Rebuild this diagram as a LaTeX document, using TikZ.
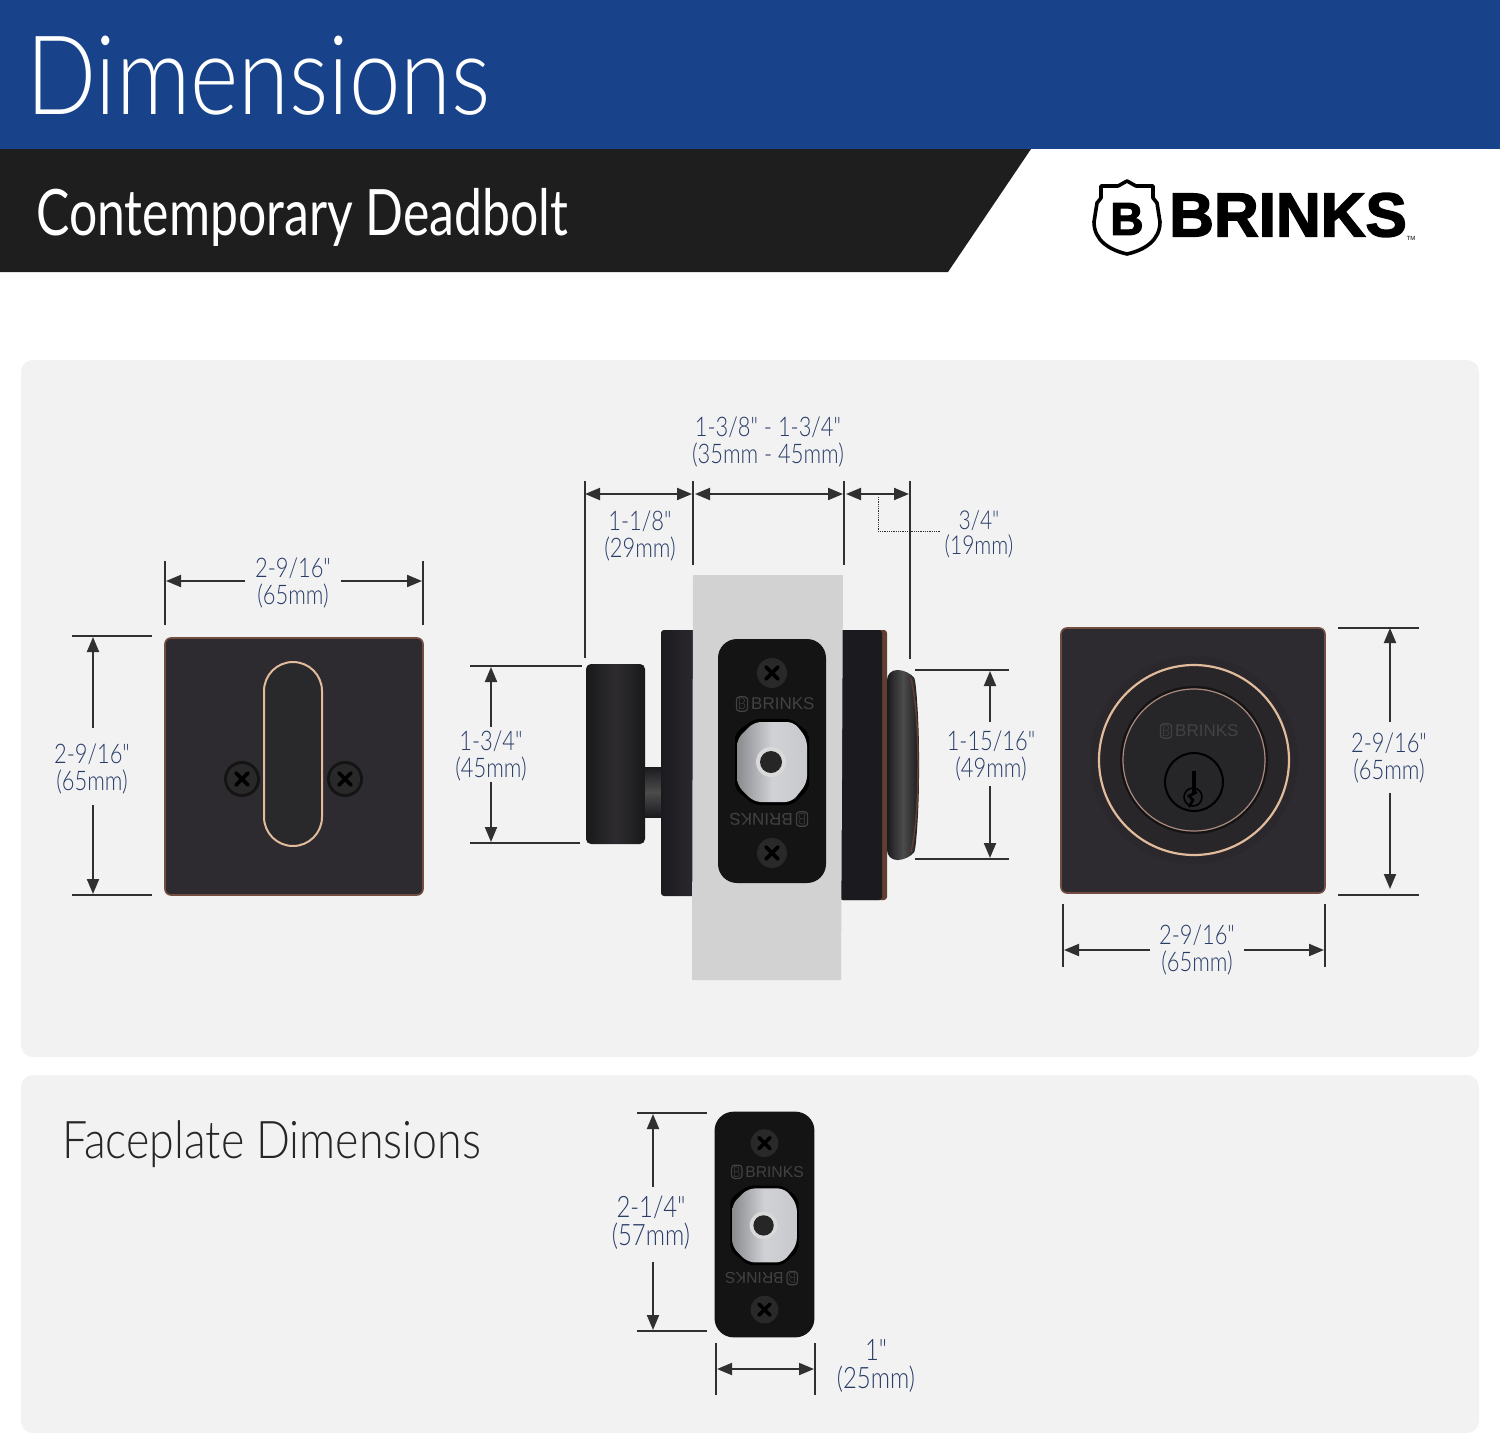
\documentclass[tikz,border=0pt]{standalone}
\usepackage{fontspec}
\usetikzlibrary{arrows.meta, calc}
\setmainfont{Liberation Sans}
\newfontfamily\lightfont{Lato Light}[FakeStretch=0.81]
\newfontfamily\titlefont{Lato Light}[FakeStretch=0.84]
\newfontfamily\facefont{Lato Light}[FakeStretch=0.86]
\newfontfamily\subfont{Lato}[FakeStretch=0.78]
\newfontfamily\logofont{Liberation Sans}[UprightFont=* Bold, FakeBold=2.4]
\definecolor{headerblue}{RGB}{24,67,138}
\definecolor{bandblack}{RGB}{30,30,30}
\definecolor{panelgray}{RGB}{242,242,242}
\definecolor{labelblue}{RGB}{40,60,104}
\definecolor{dimgray}{RGB}{48,48,48}
\definecolor{platedark}{RGB}{45,43,47}
\definecolor{copperedge}{RGB}{138,88,70}
\definecolor{copperlight}{RGB}{226,186,156}
\definecolor{housingdark}{RGB}{27,26,30}
\definecolor{doorgray}{RGB}{210,210,210}
\definecolor{chrome}{RGB}{196,198,202}
\definecolor{stampgray}{RGB}{66,66,68}

\tikzset{
    panel/.style={fill=panelgray, rounded corners=12pt},
    extline/.style={draw=dimgray, line width=1.8pt},
    dimarrow/.style={-{Stealth[length=15pt, width=12pt, inset=0pt]}, draw=dimgray, fill=dimgray, line width=2pt},
    dimboth/.style={{Stealth[length=15pt, width=12pt, inset=0pt]}-{Stealth[length=15pt, width=12pt, inset=0pt]}, draw=dimgray, fill=dimgray, line width=2pt},
    dimlabel/.style={align=center, text=labelblue, inner sep=0pt, font=\lightfont\fontsize{27}{27.5}\selectfont},
    smalllabel/.style={dimlabel, font=\lightfont\fontsize{26}{25}\selectfont},
    largelabel/.style={dimlabel, font=\lightfont\fontsize{29.5}{28}\selectfont},
    metalplate/.style={fill=platedark, draw=copperedge!75!platedark, line width=1.6pt, rounded corners=6pt},
    screw/.pic={
        \fill[black!92] (0,0) circle[radius=18pt];
        \fill[black!84] (0,0) circle[radius=15pt];
        \draw[black, line width=3.6pt, line cap=round] (-6,-6) -- (6,6);
        \draw[black, line width=3.6pt, line cap=round] (-6,6) -- (6,-6);
    },
    brinkstamp/.pic={
        \node[draw=stampgray, line width=1.2pt, rounded corners=3pt, inner sep=1.5pt, text=stampgray, font=\lightfont\fontsize{16}{16}\selectfont] (-shield) at (-30,0) {B};
        \node[text=stampgray, inner sep=0pt, anchor=west, font=\fontsize{17}{17}\selectfont] (-word) at (-21,0) {BRINKS};
    },
    faceplate/.pic={
        \fill[black!92, rounded corners=19pt] (-54,-122) rectangle (54,122);
        \path (0,-88) pic {screw} (0,92) pic {screw};
        \path (0,-57) pic (-up) {brinkstamp} (0,58) pic[rotate=180, transform shape] (-down) {brinkstamp};
        \fill[black, rounded corners=6pt] (-37,-28) -- (-18,-42) -- (20,-42) -- (37,-28) -- (37,28) -- (20,44) -- (-18,44) -- (-37,28) -- cycle;
        \shade[left color=chrome!70!black, right color=chrome!95!white, middle color=chrome!80!white, rounded corners=7pt] (-35,-22) -- (-18,-39) -- (22,-39) -- (35,-22) -- (35,22) -- (20,41) -- (-18,41) -- (-35,24) -- cycle;
        \fill[white!85!black] (-1,1) circle[radius=15pt];
        \fill[black!85] (-1,1) circle[radius=11pt];
    }
}

\begin{document}
\begin{tikzpicture}[x=1pt, y=-1pt]
    \useasboundingbox (0,0) rectangle (1500,1435);
    \fill[white] (0,0) rectangle (1500,1435);

    % Header
    \fill[headerblue] (0,0) rectangle (1500,149);
    \fill[bandblack] (0,149) -- (1031,149) -- (948,272) -- (0,272) -- cycle;
    \node[text=white, anchor=west, inner sep=0pt, font=\titlefont\fontsize{110}{110}\selectfont] (title) at (26,76) {Dimensions};
    \node[text=white, anchor=west, inner sep=0pt, font=\subfont\fontsize{64}{64}\selectfont] (subtitle) at (36,217) {Contemporary Deadbolt};

    % Logo
    \draw[black, fill=white, line width=3.6pt, line join=round] (1127,181) -- (1136,186) -- (1153,186) -- (1153,198) -- (1157,203) -- (1160,222) .. controls (1160,240) and (1145,250) .. (1127,254) .. controls (1109,250) and (1094,240) .. (1094,222) -- (1097,203) -- (1101,198) -- (1101,186) -- (1118,186) -- cycle;
    \node[text=black, inner sep=0pt, font=\logofont\fontsize{46}{46}\selectfont] (logob) at (1127,219) {B};
    \node[text=black, anchor=west, inner sep=0pt, font=\logofont\fontsize{62}{62}\selectfont] (logoword) at (1169,215) {BRINKS};
    \node[text=black, inner sep=0pt, font=\fontsize{6}{6}\selectfont] (logotm) at (1411,238) {TM};

    % Panels
    \fill[panel] (21,360) rectangle (1479,1057);
    \fill[panel] (21,1075) rectangle (1479,1433);

    % Thumb turn plate
    \draw[metalplate] (165,638) rectangle (423,895);
    \path (242,779) pic {screw} (345,779) pic {screw};
    \draw[draw=copperlight, fill=platedark!92!black, line width=2pt, rounded corners=29pt] (264,662) rectangle (322,846);

    % Side view
    \shade[left color=black!90, right color=black!90, middle color=platedark, rounded corners=5pt] (586,664) rectangle (645,844);
    \shade[top color=housingdark, bottom color=housingdark, middle color=black!70] (645,767) rectangle (662,817);
    \shade[left color=housingdark, right color=platedark, rounded corners=3pt] (661,630) rectangle (700,896);
    \fill[copperedge!70!black, rounded corners=3pt] (840,630) rectangle (887,900);
    \fill[housingdark, rounded corners=3pt] (840,630) rectangle (882,900);
    \shade[left color=housingdark, right color=housingdark, middle color=black!70, rounded corners=10pt] (887,670) -- (908,670) .. controls (916,680) and (919,720) .. (919,765) .. controls (919,810) and (916,850) .. (908,860) -- (887,860) -- cycle;
    \draw[copperedge!70!black, line width=1.5pt] (911,678) .. controls (916,700) and (918,730) .. (918,765) .. controls (918,800) and (916,830) .. (911,852);
    \fill[doorgray] (693,575) -- (843,575) -- (841,980) -- (692,980) -- cycle;
    \path (772,761) pic {faceplate};

    % Key side plate
    \draw[metalplate] (1061,628) rectangle (1325,893);
    \fill[platedark!93!black] (1194,760) circle[radius=104pt];
    \draw[draw=copperlight, fill=platedark!88!black, line width=2.2pt] (1194,760) circle[radius=95pt];
    \fill[black!92] (1194,760) circle[radius=74pt];
    \draw[draw=copperedge!70!white, fill=platedark!85!black, line width=1.2pt] (1194,760) circle[radius=71pt];
    \path (1196,731) pic {brinkstamp};
    \draw[black, fill=platedark!85!black, line width=2pt] (1194,782) circle[radius=29pt];
    \draw[black, line width=3.4pt] (1194,771) -- (1194,793);
    \draw[black, line width=1.6pt] (1193,797) circle[radius=9pt];
    \draw[black, line width=2.6pt] (1197,792) -- (1189,796) -- (1193,800) -- (1189,807);

    % Front width
    \coordinate (fwa) at (165,561); \coordinate (fwb) at (165,625);
    \coordinate (fwc) at (423,561); \coordinate (fwd) at (423,625);
    \coordinate (fwe) at (245,581); \coordinate (fwf) at (166,581);
    \coordinate (fwg) at (341,581); \coordinate (fwh) at (422,581);
    \draw[extline] (fwa) -- (fwb);
    \draw[extline] (fwc) -- (fwd);
    \draw[dimarrow] (fwe) -- (fwf);
    \draw[dimarrow] (fwg) -- (fwh);
    \node[dimlabel] (fwlabel) at (293,583) {2-9/16"\\(65mm)};

    % Front height
    \coordinate (fha) at (72,636); \coordinate (fhb) at (152,636);
    \coordinate (fhc) at (72,895); \coordinate (fhd) at (152,895);
    \coordinate (fhe) at (93,728); \coordinate (fhf) at (93,637);
    \coordinate (fhg) at (93,805); \coordinate (fhh) at (93,894);
    \draw[extline] (fha) -- (fhb);
    \draw[extline] (fhc) -- (fhd);
    \draw[dimarrow] (fhe) -- (fhf);
    \draw[dimarrow] (fhg) -- (fhh);
    \node[dimlabel] (fhlabel) at (92,769) {2-9/16"\\(65mm)};

    % Side top dimensions
    \coordinate (sa1) at (585,481); \coordinate (sa2) at (585,658);
    \coordinate (sb1) at (693,481); \coordinate (sb2) at (693,565);
    \coordinate (sc1) at (844,481); \coordinate (sc2) at (844,565);
    \coordinate (sd1) at (910,481); \coordinate (sd2) at (910,659);
    \coordinate (sa) at (585,494); \coordinate (sb) at (692,494);
    \coordinate (sbb) at (695,494); \coordinate (sc) at (843,494);
    \coordinate (scc) at (846,494); \coordinate (sd) at (909,494);
    \draw[extline] (sa1) -- (sa2);
    \draw[extline] (sb1) -- (sb2);
    \draw[extline] (sc1) -- (sc2);
    \draw[extline] (sd1) -- (sd2);
    \draw[dimboth] (sa) -- (sb);
    \draw[dimboth] (sbb) -- (sc);
    \draw[dimboth] (scc) -- (sd);
    \node[dimlabel] (doorlabel) at (768,442) {1-3/8" - 1-3/4"\\(35mm - 45mm)};
    \node[dimlabel] (boltlabel) at (640,536) {1-1/8"\\(29mm)};
    \node[smalllabel] (trimlabel) at (979,534) {3/4"\\(19mm)};
    \coordinate (lead1) at (878,497); \coordinate (lead2) at (878,531); \coordinate (lead3) at (940,531);
    \draw[dimgray, densely dotted, line width=0.8pt] (lead1) -- (lead2) -- (lead3);

    % Turn height
    \coordinate (tha) at (470,666); \coordinate (thb) at (582,666);
    \coordinate (thc) at (470,843); \coordinate (thd) at (580,843);
    \coordinate (the) at (491,727); \coordinate (thf) at (491,667);
    \coordinate (thg) at (491,782); \coordinate (thh) at (491,842);
    \draw[extline] (tha) -- (thb);
    \draw[extline] (thc) -- (thd);
    \draw[dimarrow] (the) -- (thf);
    \draw[dimarrow] (thg) -- (thh);
    \node[dimlabel] (thlabel) at (491,756) {1-3/4"\\(45mm)};

    % Cylinder height
    \coordinate (cha) at (915,670); \coordinate (chb) at (1009,670);
    \coordinate (chc) at (915,859); \coordinate (chd) at (1009,859);
    \coordinate (che) at (990,722); \coordinate (chf) at (990,671);
    \coordinate (chg) at (990,786); \coordinate (chh) at (990,858);
    \draw[extline] (cha) -- (chb);
    \draw[extline] (chc) -- (chd);
    \draw[dimarrow] (che) -- (chf);
    \draw[dimarrow] (chg) -- (chh);
    \node[dimlabel] (chlabel) at (991,756) {1-15/16"\\(49mm)};

    % Key plate height
    \coordinate (kha) at (1338,628); \coordinate (khb) at (1419,628);
    \coordinate (khc) at (1338,895); \coordinate (khd) at (1419,895);
    \coordinate (khe) at (1390,722); \coordinate (khf) at (1390,628);
    \coordinate (khg) at (1390,793); \coordinate (khh) at (1390,889);
    \draw[extline] (kha) -- (khb);
    \draw[extline] (khc) -- (khd);
    \draw[dimarrow] (khe) -- (khf);
    \draw[dimarrow] (khg) -- (khh);
    \node[dimlabel] (khlabel) at (1389,758) {2-9/16"\\(65mm)};

    % Key plate width
    \coordinate (kwa) at (1063,904); \coordinate (kwb) at (1063,967);
    \coordinate (kwc) at (1325,904); \coordinate (kwd) at (1325,967);
    \coordinate (kwe) at (1150,950); \coordinate (kwf) at (1064,950);
    \coordinate (kwg) at (1244,950); \coordinate (kwh) at (1324,950);
    \draw[extline] (kwa) -- (kwb);
    \draw[extline] (kwc) -- (kwd);
    \draw[dimarrow] (kwe) -- (kwf);
    \draw[dimarrow] (kwg) -- (kwh);
    \node[dimlabel] (kwlabel) at (1197,950) {2-9/16"\\(65mm)};

    % Faceplate panel
    \node[text=black!85, anchor=west, inner sep=0pt, font=\facefont\fontsize{52}{52}\selectfont] (facetitle) at (62,1144) {Faceplate Dimensions};
    \path (764.5,1224.5) pic[scale=0.925, transform shape] {faceplate};
    \coordinate (pha) at (637,1113); \coordinate (phb) at (707,1113);
    \coordinate (phc) at (637,1331); \coordinate (phd) at (707,1331);
    \coordinate (phe) at (653,1187); \coordinate (phf) at (653,1114);
    \coordinate (phg) at (653,1262); \coordinate (phh) at (653,1330);
    \draw[extline] (pha) -- (phb);
    \draw[extline] (phc) -- (phd);
    \draw[dimarrow] (phe) -- (phf);
    \draw[dimarrow] (phg) -- (phh);
    \node[largelabel] (phlabel) at (651,1223) {2-1/4"\\(57mm)};
    \coordinate (pwa) at (716,1343); \coordinate (pwb) at (716,1395);
    \coordinate (pwc) at (815,1343); \coordinate (pwd) at (815,1395);
    \coordinate (pwe) at (717,1369); \coordinate (pwf) at (814,1369);
    \draw[extline] (pwa) -- (pwb);
    \draw[extline] (pwc) -- (pwd);
    \draw[dimboth] (pwe) -- (pwf);
    \node[largelabel] (pwlabel) at (876,1366) {1"\\(25mm)};
\end{tikzpicture}
\end{document}
